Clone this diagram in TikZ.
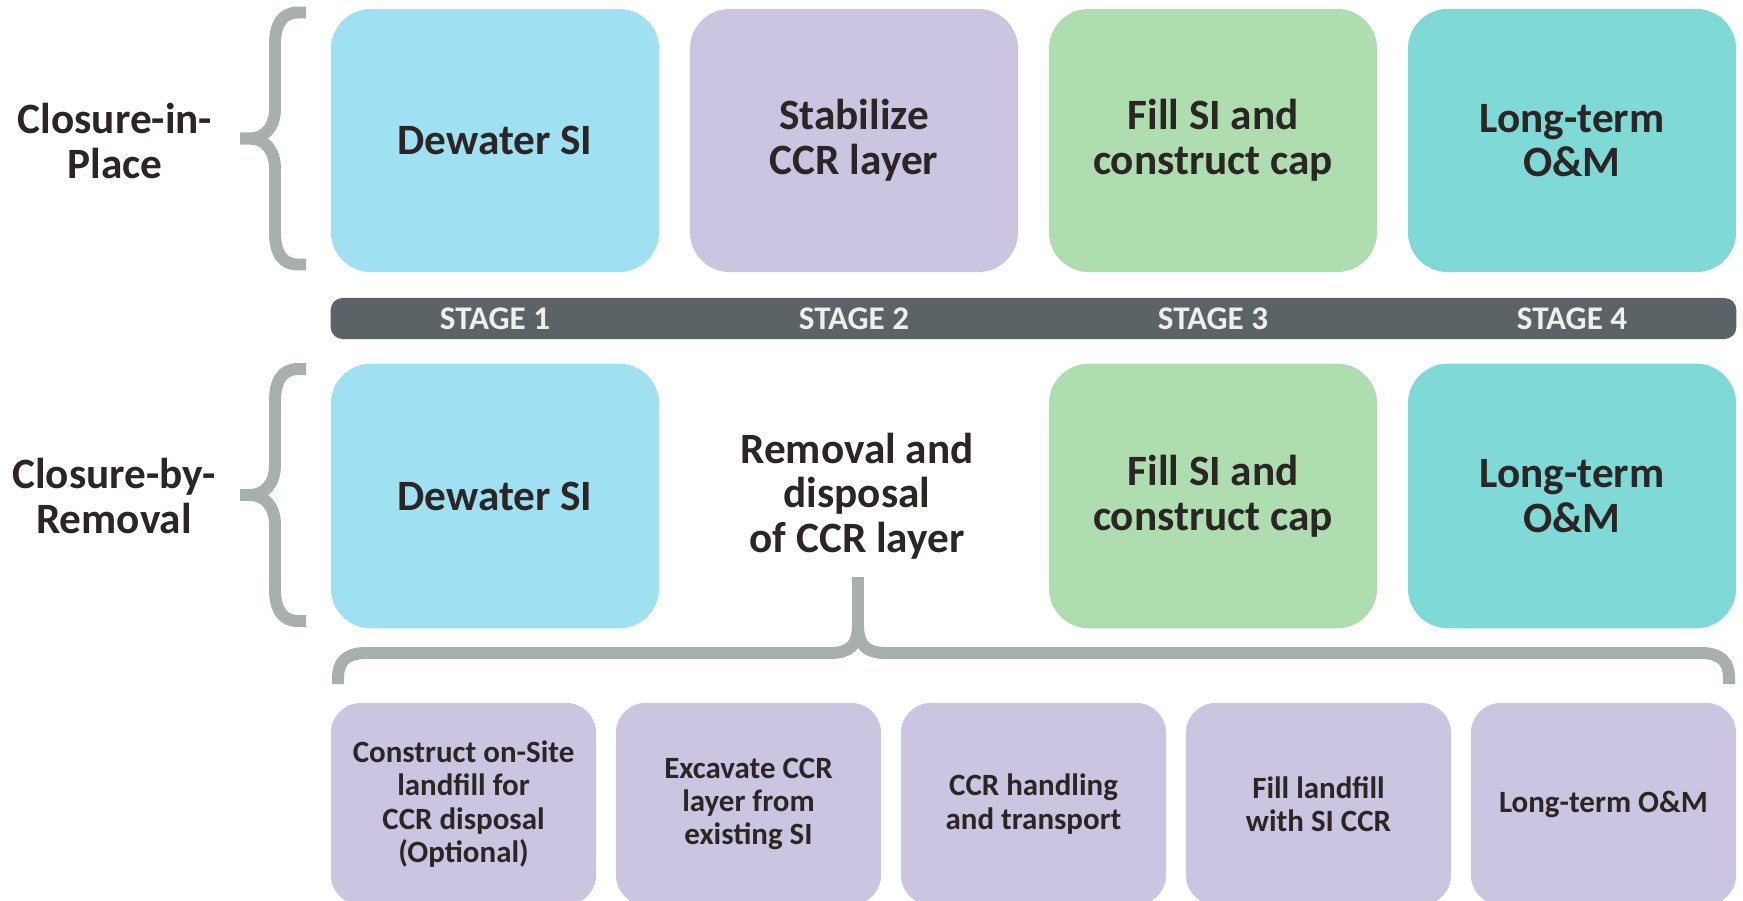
\documentclass[tikz,border=0pt]{standalone}
\usepackage{fontspec}
\setmainfont{Carlito}
\definecolor{cblue}{HTML}{9FE0F3}
\definecolor{clav}{HTML}{CBC5E1}
\definecolor{cgreen}{HTML}{AEDDAF}
\definecolor{cteal}{HTML}{7FD9D6}
\definecolor{cbar}{HTML}{5C6367}
\definecolor{cbrace}{HTML}{A9AEAE}
\definecolor{ctext}{HTML}{2B2523}
\definecolor{cstage}{HTML}{EFEFEF}
\begin{document}
\begin{tikzpicture}[x=0.01cm,y=-0.01cm,
  bigfont/.style={font=\fontsize{12.3}{12.7}\selectfont\bfseries},
  bigbox/.style={bigfont, rounded corners=0.4cm, minimum width=3.28cm, minimum height=2.63cm, align=center, text=ctext, inner sep=0pt},
  smallbox/.style={font=\fontsize{8.8}{9.5}\selectfont\bfseries, rounded corners=0.3cm, minimum width=2.65cm, minimum height=2.02cm, fill=clav, align=center, text=ctext, inner sep=0pt},
  sidelabel/.style={bigfont, align=center, text=ctext},
  stagelabel/.style={font=\fontsize{9.4}{10}\selectfont\bfseries, text=cstage},
  bracestroke/.style={draw=cbrace, line width=3.4pt},
  lbrace/.pic={
    \draw[bracestroke] (66,-126) -- (58,-126) .. controls (42,-126) and (35,-114) .. (35,-94) -- (35,-30) .. controls (35,-12) and (25,0) .. (10,0) -- (0,0);
    \draw[bracestroke] (0,0) -- (10,0) .. controls (25,0) and (35,12) .. (35,30) -- (35,94) .. controls (35,114) and (42,126) .. (58,126) -- (66,126);}
]
\useasboundingbox (0,0) rectangle (1743,900);
\clip (0,0) rectangle (1743,900);

% top row
\node[bigbox, fill=cblue] (t1) at (495,140.5) {Dewater SI};
\node[bigbox, fill=clav] (t2) at (854,140.5) {Stabilize\\CCR layer};
\node[bigbox, fill=cgreen] (t3) at (1213,140.5) {Fill SI and\\construct cap};
\node[bigbox, fill=cteal] (t4) at (1572,140.5) {Long-term\\O\&M};

% stage bar
\node[fill=cbar, rounded corners=0.12cm, minimum width=14.05cm, minimum height=0.41cm, inner sep=0pt] (bar) at (1033.5,318.5) {};
\node[stagelabel] (s1) at (495,319) {STAGE 1};
\node[stagelabel] (s2) at (854,319) {STAGE 2};
\node[stagelabel] (s3) at (1213,319) {STAGE 3};
\node[stagelabel] (s4) at (1572,319) {STAGE 4};

% middle row
\node[bigbox, fill=cblue, minimum height=2.645cm] (m1) at (495,496) {Dewater SI};
\node[sidelabel] (m2) at (857,496) {Removal and\\disposal\\of CCR layer};
\node[bigbox, fill=cgreen, minimum height=2.645cm] (m3) at (1213,496) {Fill SI and\\construct cap};
\node[bigbox, fill=cteal, minimum height=2.645cm] (m4) at (1572,496) {Long-term\\O\&M};

% side labels
\node[sidelabel] (lab1) at (115,141) {Closure-in-\\Place};
\node[sidelabel] (lab2) at (114,496) {Closure-by-\\Removal};
\pic at (240,138.5) {lbrace};
\pic at (240,495) {lbrace};

% bottom brace
\draw[bracestroke] (338,684) -- (338,678) .. controls (338,662) and (346,653) .. (366,653) -- (830,653) .. controls (850,653) and (858,645) .. (858,625) -- (858,577);
\draw[bracestroke] (858,625) .. controls (858,645) and (866,653) .. (886,653) -- (1701,653) .. controls (1721,653) and (1729,662) .. (1729,678) -- (1729,684);

% bottom row
\node[smallbox] (b1) at (463.5,804) {Construct on-Site\\landfill for\\CCR disposal\\(Optional)};
\node[smallbox] (b2) at (748.5,804) {Excavate CCR\\layer from\\existing SI};
\node[smallbox] (b3) at (1033.5,804) {CCR handling\\and transport};
\node[smallbox] (b4) at (1318.5,804) {Fill landfill\\with SI CCR};
\node[smallbox] (b5) at (1603.5,804) {Long-term O\&M};
\end{tikzpicture}
\end{document}
